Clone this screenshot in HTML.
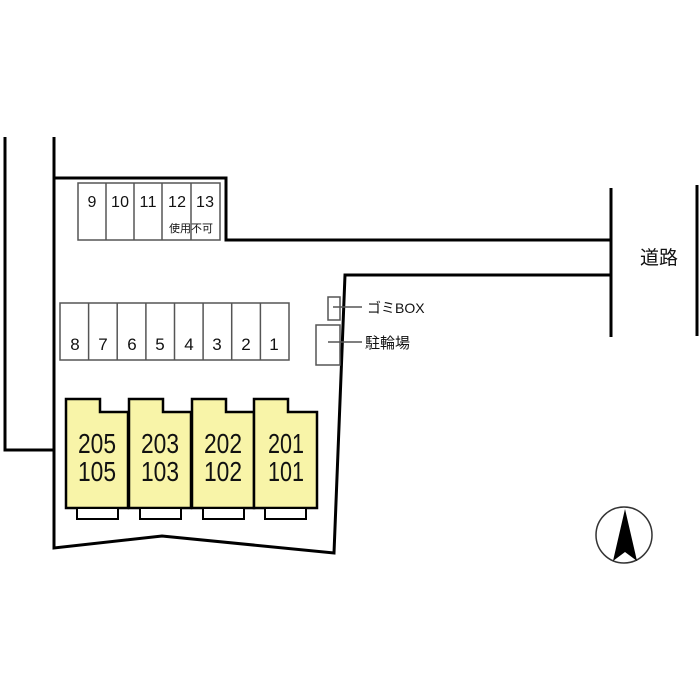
<!DOCTYPE html>
<html><head><meta charset="utf-8"><style>body{margin:0;background:#fff}svg{display:block}</style></head><body>
<svg width="700" height="700" viewBox="0 0 700 700" font-family="'Liberation Sans','Noto Sans CJK JP',sans-serif">
<g stroke="#000" stroke-width="3" fill="none">
<polyline points="5,137 5,450 54,450"/>
<polyline points="54,137 54,548 162,536 334,553 345,275 611,275"/>
<polyline points="54,178 226,178 226,240 611,240"/>
<line x1="611" y1="188" x2="611" y2="337"/>
<line x1="697" y1="185" x2="697" y2="336"/>
</g>
<g stroke="#555" stroke-width="1.5" fill="none">
<rect x="78" y="183" width="142" height="57"/>
<line x1="106" y1="183" x2="106" y2="240"/><line x1="134" y1="183" x2="134" y2="240"/><line x1="162" y1="183" x2="162" y2="240"/><line x1="191" y1="183" x2="191" y2="240"/>
<rect x="60" y="303" width="229" height="57"/>
<line x1="88.6" y1="303" x2="88.6" y2="360"/><line x1="117.2" y1="303" x2="117.2" y2="360"/><line x1="145.9" y1="303" x2="145.9" y2="360"/><line x1="174.5" y1="303" x2="174.5" y2="360"/><line x1="203.1" y1="303" x2="203.1" y2="360"/><line x1="231.7" y1="303" x2="231.7" y2="360"/><line x1="260.4" y1="303" x2="260.4" y2="360"/>
<rect x="328" y="297" width="12" height="23"/>
<rect x="316" y="325" width="24" height="40"/>
<line x1="333" y1="307" x2="362" y2="307"/>
<line x1="328" y1="342" x2="362" y2="342"/>
</g>
<g font-size="16" fill="#111" text-anchor="middle">
<text x="92" y="207">9</text><text x="120" y="207" textLength="18">10</text><text x="148" y="207" textLength="17">11</text><text x="177" y="207" textLength="18">12</text><text x="205" y="207" textLength="18">13</text>
<text x="191" y="232" font-size="11">使用不可</text>
<g font-size="17"><text x="75" y="350">8</text><text x="103" y="350">7</text><text x="132" y="350">6</text><text x="160" y="350">5</text><text x="189" y="350">4</text><text x="217" y="350">3</text><text x="246" y="350">2</text><text x="274" y="350">1</text></g>
</g>
<text x="367" y="313" font-size="14" fill="#111">ゴミBOX</text>
<text x="365" y="348" font-size="15" fill="#111">駐輪場</text>
<text x="640" y="264" font-size="19" fill="#111">道路</text>
<g stroke="#000" stroke-width="2.5" fill="#f8f4a8">
<path d="M66,399H100V412H128V508H66Z"/>
<path d="M129,399H163V412H191V508H129Z"/>
<path d="M192,399H226V412H254V508H192Z"/>
<path d="M254,399H288V412H317V508H254Z"/>
</g>
<g stroke="#000" stroke-width="2" fill="#fff">
<rect x="77" y="508" width="41" height="11"/><rect x="140" y="508" width="41" height="11"/><rect x="203" y="508" width="41" height="11"/><rect x="265" y="508" width="41" height="11"/>
</g>
<g font-size="28" fill="#111" text-anchor="middle">
<text x="97" y="453" textLength="38" lengthAdjust="spacingAndGlyphs">205</text><text x="97" y="481" textLength="38" lengthAdjust="spacingAndGlyphs">105</text>
<text x="160" y="453" textLength="38" lengthAdjust="spacingAndGlyphs">203</text><text x="160" y="481" textLength="38" lengthAdjust="spacingAndGlyphs">103</text>
<text x="223" y="453" textLength="38" lengthAdjust="spacingAndGlyphs">202</text><text x="223" y="481" textLength="38" lengthAdjust="spacingAndGlyphs">102</text>
<text x="286" y="453" textLength="36" lengthAdjust="spacingAndGlyphs">201</text><text x="286" y="481" textLength="36" lengthAdjust="spacingAndGlyphs">101</text>
</g>
<circle cx="624" cy="535" r="28" fill="none" stroke="#333" stroke-width="1.5"/>
<path d="M625,509 L613,561 L625,552 L637,561 Z" fill="#000"/>
</svg>
</body></html>
